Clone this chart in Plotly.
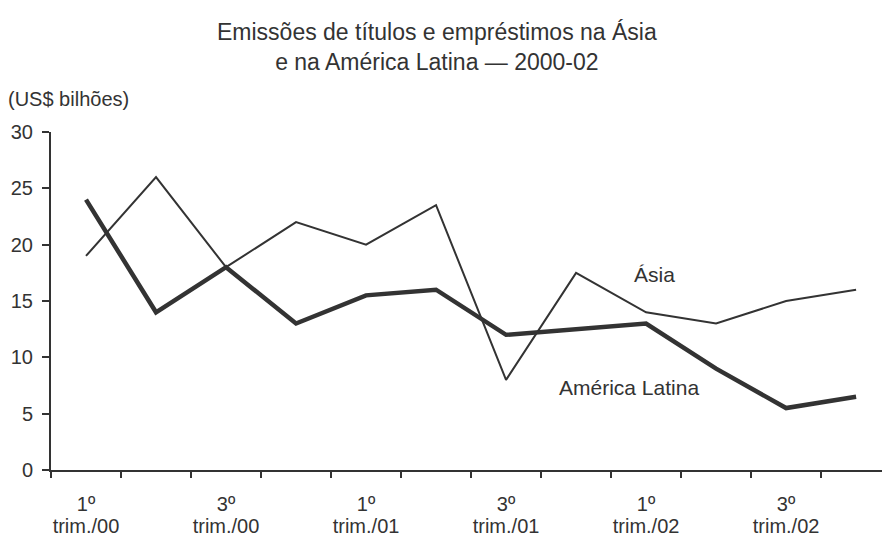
import plotly.graph_objects as go

quarters = ["1T00", "2T00", "3T00", "4T00", "1T01", "2T01", "3T01", "4T01",
            "1T02", "2T02", "3T02", "4T02"]
asia = [19, 26, 18, 22, 20, 23.5, 8, 17.5, 14, 13, 15, 16]
latina = [24, 14, 18, 13, 15.5, 16, 12, 12.5, 13, 9, 5.5, 6.5]
tick_top = ["1º", "3º", "1º", "3º", "1º", "3º"]
tick_bottom = ["trim./00", "trim./00", "trim./01", "trim./01", "trim./02", "trim./02"]
y_ticks = [0, 5, 10, 15, 20, 25, 30]

FONT = "Liberation Sans, Arial, sans-serif"
TXT = "#333333"
LINE = "#333333"

xidx = list(range(len(quarters)))
label_pos = xidx[::2]
bound_pos = [i - 0.5 for i in xidx]

PT, PB = 132, 470
PH = PB - PT


def ypaper(px):
    return (PB - px) / PH


fig = go.Figure()
fig.add_trace(go.Scatter(x=xidx, y=asia, mode="lines", name="Ásia",
                         line=dict(color=LINE, width=2), showlegend=False))
fig.add_trace(go.Scatter(x=xidx, y=latina, mode="lines", name="América Latina",
                         line=dict(color=LINE, width=4.5), showlegend=False))

xr = [-0.5, 11.37]
fig.update_layout(
    width=884, height=538,
    margin=dict(l=51, r=2, t=PT, b=538 - PB),
    paper_bgcolor="white", plot_bgcolor="white",
    font=dict(family=FONT, size=20, color=TXT),
    xaxis=dict(range=xr, showgrid=False, zeroline=False, showline=True,
               linecolor=LINE, linewidth=2, tickmode="array", automargin=False,
               tickvals=label_pos, ticktext=tick_top, ticks="",
               ticklabelstandoff=15, tickfont=dict(size=20, color=TXT)),
    xaxis2=dict(range=xr, overlaying="x", anchor="y", side="bottom",
                showgrid=False, zeroline=False, showline=False, automargin=False,
                tickmode="array", tickvals=bound_pos, ticks="outside",
                ticklen=7, tickwidth=2, tickcolor=LINE, showticklabels=False),
    xaxis3=dict(range=xr, overlaying="x", anchor="y", side="bottom",
                showgrid=False, zeroline=False, showline=False, automargin=False,
                tickmode="array", tickvals=label_pos, ticktext=tick_bottom,
                ticks="", ticklabelstandoff=42, tickfont=dict(size=20, color=TXT)),
    yaxis=dict(range=[0, 30], showgrid=False, zeroline=False, showline=True,
               linecolor=LINE, linewidth=2, tickmode="array", tickvals=y_ticks,
               ticks="outside", ticklen=7, tickwidth=2, tickcolor=LINE, automargin=False,
               ticklabelstandoff=5, tickfont=dict(size=20, color=TXT)),
)
fig.add_trace(go.Scatter(x=[None], y=[None], xaxis="x2", yaxis="y", showlegend=False, hoverinfo="skip"))
fig.add_trace(go.Scatter(x=[None], y=[None], xaxis="x3", yaxis="y", showlegend=False, hoverinfo="skip"))

fig.add_annotation(text="Emissões de títulos e empréstimos na Ásia<br>e na América Latina — 2000-02",
                   xref="paper", yref="paper", x=(437 - 51) / 831, y=ypaper(17),
                   xanchor="center", yanchor="top", showarrow=False,
                   font=dict(size=23, color=TXT))
fig.add_annotation(text="(US$ bilhões)", xref="paper", yref="paper",
                   x=-45 / 831, y=ypaper(99), xanchor="left", yanchor="middle",
                   showarrow=False, font=dict(size=20, color=TXT))
fig.add_annotation(text="Ásia", x=8.12, y=17.35, showarrow=False,
                   font=dict(size=21, color=TXT))
fig.add_annotation(text="América Latina", x=7.76, y=7.35, showarrow=False,
                   font=dict(size=21, color=TXT))

fig.write_html("out.html")
